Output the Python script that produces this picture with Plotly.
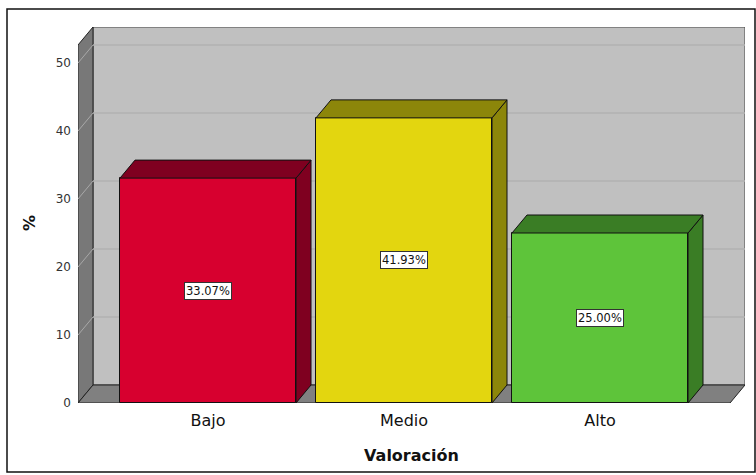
import plotly.graph_objects as go

categories = ["Bajo", "Medio", "Alto"]
values = [33.07, 41.93, 25.00]
labels = ["33.07%", "41.93%", "25.00%"]
front_colors = ["#D7002F", "#E3D60F", "#5EC43A"]
dark_colors = ["#7F0020", "#8C860A", "#3A7D25"]
y_ticks = [0, 10, 20, 30, 40, 50]

# geometry (data units)
PXX = 196.0   # px per category unit
PXY = 6.8     # px per percent
XL, XR = -130 / PXX, 537 / PXX
YTOP = 376 / PXY
DX, DY = 15 / PXX, 18 / PXY
W = 176 / PXX

fig = go.Figure()
xs = list(range(len(categories)))
fig.add_trace(go.Bar(
    x=xs, y=values, width=W,
    marker=dict(color=front_colors, line=dict(color="#111111", width=1)),
    hoverinfo="skip", showlegend=False,
))

shapes = []
def poly(pts, fill, line="#222222", lw=1, layer="below"):
    d = "M " + " L ".join(f"{x},{y}" for x, y in pts) + " Z"
    shapes.append(dict(type="path", path=d, xref="x", yref="y", fillcolor=fill,
                       line=dict(color=line, width=lw), layer=layer))

# back wall
poly([(XL + DX, DY), (XR, DY), (XR, YTOP), (XL + DX, YTOP)], "#C0C0C0", "#444444")
# left wall
poly([(XL, 0), (XL + DX, DY), (XL + DX, YTOP), (XL, YTOP - DY)], "#787878", "#222222")
# floor
poly([(XL, 0), (XR - DX, 0), (XR, DY), (XL + DX, DY)], "#808080", "#222222")
# gridlines
for v in y_ticks[1:]:
    shapes.append(dict(type="line", xref="x", yref="y", x0=XL + DX, x1=XR, y0=v + DY, y1=v + DY,
                       line=dict(color="#B2B2B2", width=1.5), layer="below"))
    shapes.append(dict(type="line", xref="x", yref="y", x0=XL, x1=XL + DX, y0=v, y1=v + DY,
                       line=dict(color="#A8A8A8", width=1), layer="below"))
# bar tops & sides
for x, v, dc in zip(xs, values, dark_colors):
    l, r = x - W / 2, x + W / 2
    poly([(r, 0), (r + DX, DY), (r + DX, v + DY), (r, v)], dc, "#111111", 1, "above")
    poly([(l, v), (l + DX, v + DY), (r + DX, v + DY), (r, v)], dc, "#111111", 1, "above")

# outer frame (paper coords)
def px_x(p): return (p - 78) / 667
def px_y(p): return (403 - p) / 376
shapes.append(dict(type="rect", xref="paper", yref="paper",
                   x0=px_x(7), x1=px_x(755), y0=px_y(472), y1=px_y(9),
                   line=dict(color="#111111", width=1.5), fillcolor="rgba(0,0,0,0)", layer="below"))

annotations = []
for x, v, t in zip(xs, values, labels):
    annotations.append(dict(x=x, y=v / 2, xref="x", yref="y", text=t, showarrow=False,
                            font=dict(family="DejaVu Sans", size=11.5, color="#111111"),
                            bgcolor="white", bordercolor="#333333", borderwidth=1, borderpad=1))
annotations.append(dict(x=px_x(30), y=px_y(223), xref="paper", yref="paper", text="<b>%</b>",
                        textangle=-90, showarrow=False, xanchor="center", yanchor="middle",
                        font=dict(family="DejaVu Sans", size=16, color="#111111")))

fig.update_layout(
    width=756, height=475,
    margin=dict(l=78, r=11, t=27, b=72),
    paper_bgcolor="white", plot_bgcolor="white",
    shapes=shapes, annotations=annotations,
    bargap=0,
    font=dict(family="DejaVu Sans", color="#222222"),
    xaxis=dict(range=[XL, XR], tickvals=xs, ticktext=categories, showgrid=False, zeroline=False,
               showline=False, ticks="", tickfont=dict(size=16, color="#111111"), ticklabelstandoff=6,
               title=dict(text="<b>Valoración</b>", font=dict(size=16, color="#111111"), standoff=20),
               fixedrange=True),
    yaxis=dict(range=[0, YTOP], tickvals=y_ticks, showgrid=False, zeroline=False, showline=False,
               ticks="", tickfont=dict(size=12, color="#333333"), ticklabelstandoff=6,
               fixedrange=True),
)
fig.write_html("out.html")
